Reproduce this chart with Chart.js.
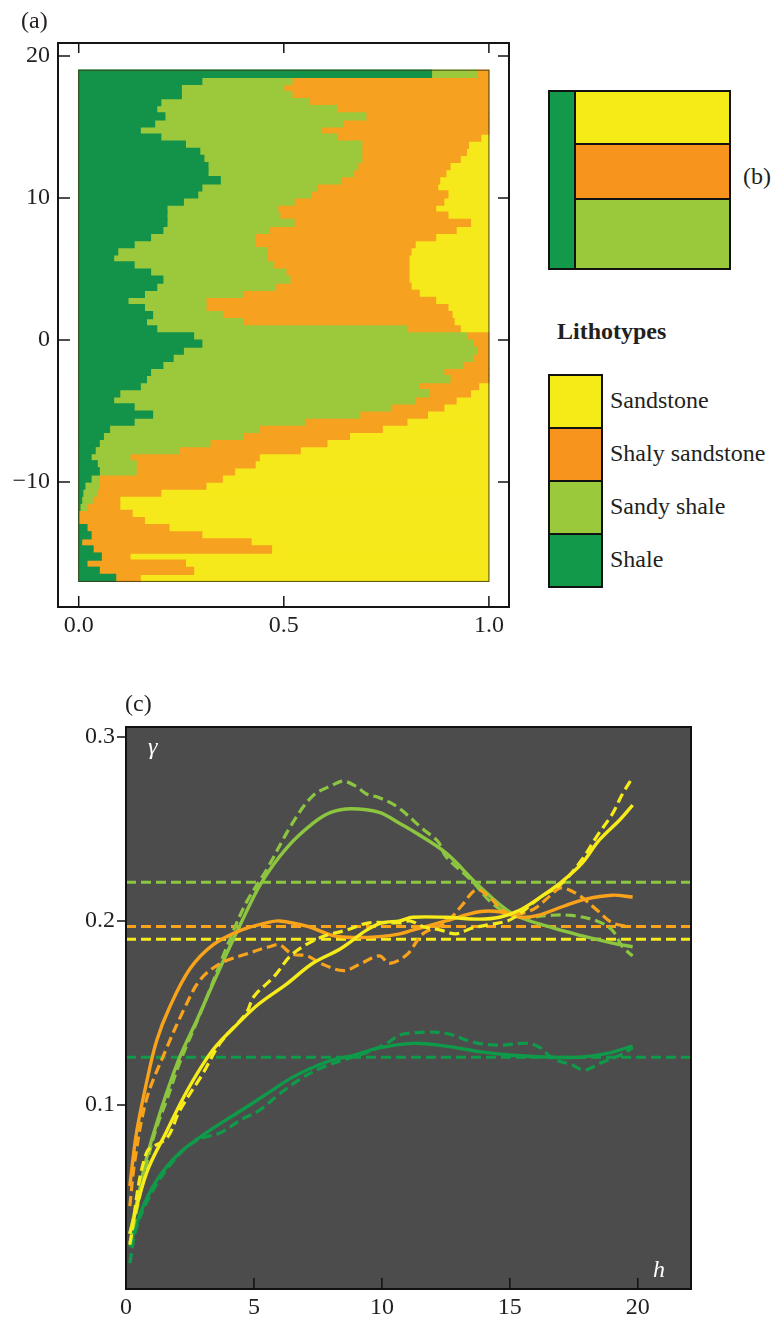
<!DOCTYPE html>
<html>
<head>
<meta charset="utf-8">
<title>Lithotype proportions and indicator variograms</title>
<script src="https://cdn.jsdelivr.net/npm/chart.js@4.4.1/dist/chart.umd.min.js"></script>
<style>
  body { margin: 0; background: #ffffff; }
  #page { position: relative; width: 775px; height: 1318px; overflow: hidden;
          font-family: "Liberation Serif", "Times New Roman", serif; color: #231f20; }
  canvas { position: absolute; }
  .t { position: absolute; font-size: 24px; line-height: 24px; white-space: nowrap; }
  .it { font-style: italic; color: #ffffff; }
  .box { position: absolute; box-sizing: border-box; border: 2px solid #111111; }
</style>
</head>
<body>
<div id="page">
  <canvas id="prop" width="530" height="650" style="left:0;top:0;width:530px;height:650px"></canvas>
  <canvas id="vario" width="775" height="618" style="left:0;top:700px;width:775px;height:618px"></canvas>

  <div class="t" style="left:21px;top:8px">(a)</div>
  <div class="t" style="left:743px;top:164px">(b)</div>
  <div class="t" style="left:125px;top:691px">(c)</div>

  <!-- (b) sequence sketch -->
  <div class="box" style="left:548px;top:90px;width:29px;height:180px;background:#12994a"></div>
  <div class="box" style="left:574px;top:90px;width:157px;height:55px;background:#f4eb17"></div>
  <div class="box" style="left:574px;top:143px;width:157px;height:58px;background:#f7941d"></div>
  <div class="box" style="left:574px;top:198px;width:157px;height:72px;background:#9aca3c"></div>

  <!-- lithotype key -->
  <div class="t" style="left:557px;top:319px;font-weight:bold">Lithotypes</div>
  <div id="key"></div>

  <div class="t it" style="left:148px;top:734px">γ</div>
  <div class="t it" style="left:653px;top:1257px">h</div>
</div>

<script>
// ---------- lithotypes ----------
const lithotypes = ['Sandstone', 'Shaly sandstone', 'Sandy shale', 'Shale'];
const keyColors  = ['#f4eb17', '#f7941d', '#9aca3c', '#12994a'];

// ---------- (a) vertical proportion curves ----------
// depth levels (centre of each 0.5-thick slice, top to bottom)
const depths = [18.75, 18.25, 17.75, 17.25, 16.75, 16.25, 15.75, 15.25, 14.75, 14.25,
  13.75, 13.25, 12.75, 12.25, 11.75, 11.25, 10.75, 10.25, 9.75, 9.25,
  8.75, 8.25, 7.75, 7.25, 6.75, 6.25, 5.75, 5.25, 4.75, 4.25,
  3.75, 3.25, 2.75, 2.25, 1.75, 1.25, 0.75, 0.25, -0.25, -0.75,
  -1.25, -1.75, -2.25, -2.75, -3.25, -3.75, -4.25, -4.75, -5.25, -5.75,
  -6.25, -6.75, -7.25, -7.75, -8.25, -8.75, -9.25, -9.75, -10.25, -10.75,
  -11.25, -11.75, -12.25, -12.75, -13.25, -13.75, -14.25, -14.75, -15.25, -15.75,
  -16.25, -16.75];

// cumulative proportion reached at the right edge of each lithotype
const shaleEdge = [0.86, 0.30, 0.25, 0.25, 0.20, 0.19, 0.21, 0.185, 0.15, 0.20,
  0.26, 0.295, 0.305, 0.315, 0.315, 0.345, 0.30, 0.29, 0.255, 0.215,
  0.215, 0.215, 0.205, 0.175, 0.135, 0.095, 0.085, 0.135, 0.175, 0.205,
  0.19, 0.16, 0.12, 0.16, 0.18, 0.165, 0.19, 0.28, 0.30, 0.255,
  0.23, 0.205, 0.175, 0.165, 0.15, 0.10, 0.085, 0.135, 0.18, 0.135,
  0.075, 0.06, 0.05, 0.04, 0.03, 0.045, 0.05, 0.03, 0.015, 0.01,
  0.007, 0.003, 0.0, 0.0, 0.02, 0.03, 0.007, 0.035, 0.055, 0.02,
  0.05, 0.09];
const sandyShaleEdge = [0.97, 0.52, 0.50, 0.52, 0.56, 0.63, 0.70, 0.645, 0.59, 0.63,
  0.69, 0.69, 0.69, 0.68, 0.67, 0.64, 0.58, 0.565, 0.525, 0.485,
  0.49, 0.525, 0.465, 0.43, 0.43, 0.46, 0.46, 0.475, 0.505, 0.515,
  0.48, 0.40, 0.31, 0.31, 0.35, 0.40, 0.80, 0.945, 0.96, 0.97,
  0.96, 0.935, 0.89, 0.905, 0.83, 0.855, 0.82, 0.76, 0.685, 0.55,
  0.44, 0.40, 0.32, 0.245, 0.125, 0.14, 0.14, 0.05, 0.05, 0.045,
  0.035, 0.02, 0.0, 0.0, 0.02, 0.03, 0.007, 0.035, 0.055, 0.02,
  0.05, 0.09];
const shalySandEdge = [1, 1, 1, 1, 1, 1, 1, 1, 1, 0.98,
  0.95, 0.945, 0.93, 0.905, 0.895, 0.88, 0.875, 0.90, 0.89, 0.87,
  0.90, 0.955, 0.92, 0.87, 0.82, 0.81, 0.805, 0.805, 0.805, 0.805,
  0.81, 0.83, 0.87, 0.90, 0.91, 0.915, 0.93, 1, 1, 1,
  1, 1, 1, 1, 0.975, 0.955, 0.92, 0.89, 0.85, 0.80,
  0.74, 0.66, 0.605, 0.54, 0.44, 0.43, 0.38, 0.35, 0.31, 0.20,
  0.10, 0.10, 0.13, 0.16, 0.22, 0.30, 0.42, 0.47, 0.125, 0.26,
  0.28, 0.15];

const propXTicks = [0, 0.5, 1];
const propYTicks = [-10, 0, 10, 20];

// ---------- (c) indicator variograms: [lag h, gamma] ----------
const sandstoneModel = [[0.15,0.030],[0.8,0.063],[1.6,0.086],[2.4,0.108],[3.4,0.130],[4.5,0.146],[5.2,0.155],[6.3,0.166],[7.3,0.177],[8.4,0.185],[9.4,0.195],[10.0,0.199],[10.7,0.200],[11.2,0.202],[12.5,0.202],[13.8,0.201],[14.6,0.202],[15.4,0.206],[16.2,0.213],[17.0,0.221],[17.8,0.231],[18.5,0.244],[19.3,0.255],[19.8,0.263]];
const sandstoneExp = [[0.15,0.024],[0.8,0.074],[1.6,0.082],[2.1,0.097],[3.0,0.117],[3.7,0.134],[4.7,0.150],[5.0,0.159],[5.8,0.170],[6.5,0.182],[7.6,0.191],[8.6,0.195],[9.5,0.199],[10.7,0.199],[11.1,0.200],[11.6,0.197],[12.3,0.195],[12.9,0.193],[13.5,0.196],[14.2,0.198],[14.9,0.200],[15.4,0.204],[16.2,0.213],[17.0,0.220],[17.8,0.233],[18.4,0.246],[19.0,0.258],[19.4,0.269],[19.8,0.278]];
const shalySandModel = [[0.15,0.056],[0.4,0.084],[0.8,0.112],[1.2,0.135],[1.7,0.153],[2.5,0.174],[3.4,0.187],[4.5,0.195],[5.5,0.199],[6.0,0.200],[7.1,0.197],[8.1,0.192],[8.9,0.191],[9.9,0.1915],[10.7,0.193],[11.2,0.195],[12.5,0.200],[13.8,0.205],[14.6,0.205],[15.4,0.202],[16.1,0.203],[17.1,0.208],[18.0,0.212],[19.0,0.214],[19.8,0.213]];
const shalySandExp = [[0.15,0.045],[0.35,0.070],[0.8,0.103],[1.5,0.128],[2.3,0.153],[2.9,0.168],[3.7,0.177],[4.7,0.182],[5.6,0.186],[6.0,0.187],[6.5,0.182],[7.1,0.181],[7.6,0.177],[8.5,0.173],[9.2,0.177],[9.9,0.181],[10.3,0.177],[11.0,0.182],[11.6,0.193],[12.5,0.199],[13.1,0.208],[13.7,0.217],[14.2,0.213],[14.8,0.205],[15.4,0.204],[16.0,0.207],[16.6,0.214],[17.0,0.218],[17.7,0.214],[18.4,0.206],[19.0,0.199],[19.6,0.197]];
const sandyShaleModel = [[0.15,0.030],[0.5,0.052],[0.8,0.071],[1.2,0.090],[1.5,0.103],[2.1,0.126],[2.8,0.147],[3.5,0.169],[4.5,0.199],[5.3,0.221],[6.3,0.240],[7.3,0.253],[8.0,0.259],[8.8,0.261],[9.9,0.259],[10.7,0.253],[11.2,0.249],[12.5,0.237],[13.8,0.219],[15.1,0.204],[16.5,0.197],[17.8,0.192],[19.0,0.188],[19.8,0.186]];
const sandyShaleExp = [[0.15,0.025],[0.5,0.048],[0.8,0.068],[1.2,0.088],[1.6,0.103],[2.1,0.123],[3.0,0.153],[4.0,0.188],[4.7,0.210],[5.5,0.228],[6.5,0.253],[7.3,0.268],[8.1,0.274],[8.5,0.276],[9.0,0.273],[9.4,0.269],[9.9,0.267],[10.6,0.262],[11.6,0.250],[12.2,0.243],[12.5,0.235],[13.5,0.222],[14.2,0.211],[14.8,0.205],[15.5,0.202],[16.5,0.203],[17.4,0.203],[18.4,0.200],[19.0,0.195],[19.4,0.186],[19.8,0.181]];
const shaleModel = [[0.15,0.023],[0.55,0.041],[1.2,0.059],[2.1,0.074],[3.15,0.085],[4.5,0.097],[5.5,0.106],[6.5,0.115],[7.85,0.1235],[8.9,0.127],[9.9,0.131],[11.2,0.1335],[12.5,0.132],[13.8,0.129],[15.1,0.127],[16.5,0.126],[17.8,0.126],[18.8,0.128],[19.8,0.132]];
const shaleExp = [[0.15,0.014],[0.42,0.034],[1.07,0.054],[2.0,0.072],[2.8,0.081],[3.7,0.085],[4.5,0.092],[5.2,0.097],[6.0,0.106],[6.8,0.114],[7.6,0.120],[8.5,0.1245],[9.3,0.128],[10.2,0.1335],[10.7,0.138],[11.5,0.1395],[12.5,0.139],[13.6,0.134],[14.6,0.1325],[15.7,0.1335],[16.2,0.131],[16.7,0.125],[17.4,0.122],[17.9,0.119],[18.5,0.1225],[19.3,0.127],[19.8,0.131]];

// sills: sandstone, shaly sandstone, sandy shale, shale
const sills = [0.190, 0.197, 0.221, 0.126];

const varioXTicks = [0, 5, 10, 15, 20];
const varioYTicks = [0.1, 0.2, 0.3];

// ---------- styling ----------
const TEXT = '#231f20';
const tickFont = { family: 'Liberation Serif', size: 24 };
const fillA  = { sandstone: '#f5e91b', shalySand: '#f6a11f', sandyShale: '#9cc83c', shale: '#13924a' };
const lineC  = { sandstone: '#f7ec1a', shalySand: '#f9a31b', sandyShale: '#8cc53f', shale: '#0f9a4a' };

// key swatches and labels
(function buildKey() {
  const key = document.getElementById('key');
  const top0 = 375, h = 53;
  lithotypes.forEach((name, i) => {
    const sw = document.createElement('div');
    sw.className = 'box';
    sw.style.cssText = `left:548px;top:${top0 + i * h - 1}px;width:55px;height:${h + 2}px;background:${keyColors[i]}`;
    key.appendChild(sw);
    const lb = document.createElement('div');
    lb.className = 't';
    lb.style.cssText = `left:610px;top:${top0 + i * h + 13}px`;
    lb.textContent = name;
    key.appendChild(lb);
  });
})();

Chart.defaults.animation = false;
Chart.defaults.font.family = 'Liberation Serif';

// frame with inward ticks on four sides, plus a thin outline of the coloured column
const propFrame = {
  id: 'propFrame',
  afterDraw(chart) {
    const { ctx, chartArea: a, scales: { x, y } } = chart;
    ctx.save();
    const x0 = x.getPixelForValue(0), x1 = x.getPixelForValue(1);
    const yT = y.getPixelForValue(19), yB = y.getPixelForValue(-17);
    ctx.strokeStyle = 'rgba(60,55,15,0.85)';
    ctx.lineWidth = 1;
    ctx.strokeRect(x0, yT, x1 - x0, yB - yT);
    ctx.strokeStyle = '#151515';
    ctx.lineWidth = 2;
    ctx.strokeRect(a.left, a.top, a.width, a.height);
    ctx.lineWidth = 1.5;
    ctx.beginPath();
    propXTicks.forEach(v => {
      const p = x.getPixelForValue(v);
      ctx.moveTo(p, a.bottom); ctx.lineTo(p, a.bottom - 11);
      ctx.moveTo(p, a.top); ctx.lineTo(p, a.top + 10);
    });
    propYTicks.forEach(v => {
      const p = y.getPixelForValue(v);
      ctx.moveTo(a.left, p); ctx.lineTo(a.left + 12, p);
      ctx.moveTo(a.right, p); ctx.lineTo(a.right - 11, p);
    });
    ctx.stroke();
    ctx.restore();
  }
};

const slice = (from, to) => depths.map((d, i) => ({ y: d, x: [from(i), to(i)] }));

new Chart(document.getElementById('prop'), {
  type: 'bar',
  data: {
    datasets: [
      { label: 'Shale', data: slice(() => 0, i => shaleEdge[i]), backgroundColor: fillA.shale },
      { label: 'Sandy shale', data: slice(i => shaleEdge[i], i => sandyShaleEdge[i]), backgroundColor: fillA.sandyShale },
      { label: 'Shaly sandstone', data: slice(i => sandyShaleEdge[i], i => shalySandEdge[i]), backgroundColor: fillA.shalySand },
      { label: 'Sandstone', data: slice(i => shalySandEdge[i], () => 1), backgroundColor: fillA.sandstone }
    ]
  },
  options: {
    indexAxis: 'y',
    responsive: false,
    animation: false,
    datasets: { bar: { grouped: false, categoryPercentage: 1, barPercentage: 1, borderWidth: 0, inflateAmount: 0.6 } },
    layout: { padding: { top: 43, right: 21, left: 0, bottom: 0 } },
    plugins: { legend: { display: false }, tooltip: { enabled: false } },
    scales: {
      x: {
        type: 'linear', min: -0.0505, max: 1.049, offset: false,
        grid: { display: false, drawTicks: false }, border: { display: false },
        afterBuildTicks: s => { s.ticks = propXTicks.map(v => ({ value: v })); },
        afterFit: s => { s.height = 43; },
        ticks: { font: tickFont, color: TEXT, padding: 4, maxRotation: 0, autoSkip: false,
                 callback: v => Number(v).toFixed(1) }
      },
      y: {
        type: 'linear', min: -18.8, max: 20.915, offset: false,
        grid: { display: false, drawTicks: false }, border: { display: false },
        afterBuildTicks: s => { s.ticks = propYTicks.map(v => ({ value: v })); },
        afterFit: s => { s.width = 58; },
        ticks: { font: tickFont, color: TEXT, padding: 8, autoSkip: false,
                 callback: v => (v < 0 ? '\u2212' + Math.abs(v) : String(v)) }
      }
    }
  },
  plugins: [propFrame]
});

// ---------- (c) ----------
const varioFrame = {
  id: 'varioFrame',
  beforeDraw(chart) {
    const { ctx, chartArea: a } = chart;
    ctx.save();
    ctx.fillStyle = '#4c4c4c';
    ctx.fillRect(a.left, a.top, a.width, a.height);
    ctx.restore();
  },
  afterDraw(chart) {
    const { ctx, chartArea: a, scales: { x, y } } = chart;
    ctx.save();
    ctx.strokeStyle = '#111111';
    ctx.lineWidth = 2;
    ctx.strokeRect(a.left, a.top, a.width, a.height);
    ctx.lineWidth = 1.5;
    ctx.beginPath();
    varioYTicks.forEach(v => {
      const p = y.getPixelForValue(v);
      ctx.moveTo(a.left, p); ctx.lineTo(a.left - 9, p);
    });
    varioXTicks.forEach(v => {
      if (v === 0) return;
      const p = x.getPixelForValue(v);
      ctx.moveTo(p, a.bottom); ctx.lineTo(p, a.bottom - 11);
    });
    ctx.stroke();
    ctx.restore();
  }
};

const pts = arr => arr.map(([h, g]) => ({ x: h, y: g }));
const sillLine = g => [{ x: 0, y: g }, { x: 22.08, y: g }];

const curve = (label, data, color, dashed) => ({
  label, data: pts(data), borderColor: color, showLine: true, pointRadius: 0,
  borderWidth: dashed ? 3.2 : 3.4, borderDash: dashed ? [10, 5] : [], tension: 0.35,
  borderCapStyle: 'butt', fill: false
});
const sill = (label, g, color) => ({
  label, data: sillLine(g), borderColor: color, showLine: true, pointRadius: 0,
  borderWidth: 3, borderDash: [10, 5], tension: 0, fill: false
});

new Chart(document.getElementById('vario'), {
  type: 'scatter',
  data: {
    datasets: [
      curve('Sandstone model', sandstoneModel, lineC.sandstone, false),
      curve('Sandstone experimental', sandstoneExp, lineC.sandstone, true),
      curve('Shaly sandstone model', shalySandModel, lineC.shalySand, false),
      curve('Shaly sandstone experimental', shalySandExp, lineC.shalySand, true),
      curve('Sandy shale model', sandyShaleModel, lineC.sandyShale, false),
      curve('Sandy shale experimental', sandyShaleExp, lineC.sandyShale, true),
      curve('Shale model', shaleModel, lineC.shale, false),
      curve('Shale experimental', shaleExp, lineC.shale, true),
      sill('Sandstone sill', sills[0], lineC.sandstone),
      sill('Shaly sandstone sill', sills[1], lineC.shalySand),
      sill('Sandy shale sill', sills[2], lineC.sandyShale),
      sill('Shale sill', sills[3], lineC.shale)
    ]
  },
  options: {
    responsive: false,
    animation: false,
    layout: { padding: { top: 27, right: 84, left: 0, bottom: 0 } },
    plugins: { legend: { display: false }, tooltip: { enabled: false } },
    scales: {
      x: {
        type: 'linear', min: 0, max: 22.08,
        grid: { display: false, drawTicks: false }, border: { display: false },
        afterBuildTicks: s => { s.ticks = varioXTicks.map(v => ({ value: v })); },
        afterFit: s => { s.height = 29; },
        ticks: { font: tickFont, color: TEXT, padding: 4, maxRotation: 0, autoSkip: false,
                 callback: v => String(v) }
      },
      y: {
        type: 'linear', min: 0, max: 0.3054,
        grid: { display: false, drawTicks: false }, border: { display: false },
        afterBuildTicks: s => { s.ticks = varioYTicks.map(v => ({ value: v })); },
        afterFit: s => { s.width = 126; },
        ticks: { font: tickFont, color: TEXT, padding: 11, autoSkip: false,
                 callback: v => Number(v).toFixed(1) }
      }
    }
  },
  plugins: [varioFrame]
});
</script>
</body>
</html>
